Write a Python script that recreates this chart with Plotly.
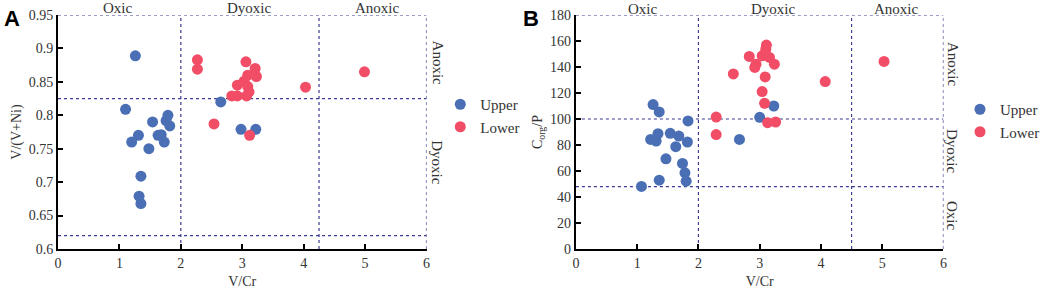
import plotly.graph_objects as go

# ---------------- Data ----------------
# Panel A: V/Cr vs V/(V+Ni)
a_upper_x = [1.26, 1.10, 1.54, 1.79, 1.76, 1.82, 1.31, 1.20, 1.63, 1.68, 1.73, 1.48, 1.35, 1.32, 1.35, 2.65, 2.98, 3.22]
a_upper_y = [0.889, 0.809, 0.790, 0.800, 0.792, 0.784, 0.770, 0.760, 0.770, 0.771, 0.760, 0.750, 0.709, 0.679, 0.668, 0.820, 0.779, 0.779]
a_lower_x = [2.27, 2.27, 3.06, 3.21, 3.23, 3.09, 3.03, 2.92, 3.09, 3.11, 2.83, 2.92, 3.07, 2.54, 3.12, 4.03, 4.99]
a_lower_y = [0.883, 0.869, 0.880, 0.870, 0.858, 0.860, 0.851, 0.845, 0.843, 0.835, 0.829, 0.829, 0.829, 0.787, 0.770, 0.842, 0.865]

# Panel B: V/Cr vs Corg/P
b_upper_x = [1.26, 1.36, 1.83, 1.34, 1.22, 1.31, 1.54, 1.68, 1.63, 1.82, 1.47, 1.74, 1.78, 1.80, 1.36, 1.07, 2.67, 3.00, 3.23]
b_upper_y = [111.1, 105.4, 98.5, 88.7, 84.3, 83.0, 89.0, 86.9, 78.7, 82.3, 69.4, 65.8, 58.6, 52.2, 52.9, 48.1, 84.3, 101.3, 110.0]
b_lower_x = [3.11, 3.10, 3.09, 3.04, 3.16, 3.24, 2.83, 2.94, 2.92, 2.57, 3.09, 3.04, 3.08, 2.29, 3.13, 3.26, 2.29, 4.07, 5.03]
b_lower_y = [156.9, 153.8, 150.7, 148.6, 147.4, 142.2, 148.1, 142.2, 139.7, 134.7, 132.4, 121.1, 112.1, 101.5, 97.2, 97.7, 88.0, 128.8, 144.3]

# Thresholds
a_x_thresh = [2, 4.25]
a_y_thresh = [0.825, 0.62]
b_x_thresh = [2, 4.5]
b_y_thresh = [100, 48]

x_ticks = [0, 1, 2, 3, 4, 5, 6]
a_y_ticks = [0.6, 0.65, 0.7, 0.75, 0.8, 0.85, 0.9, 0.95]
b_y_ticks = [0, 20, 40, 60, 80, 100, 120, 140, 160, 180]

BLUE = "#4A6FB5"
RED = "#F24D67"
NAVY = "#3B3B8F"
SERIF = "Liberation Serif"
TXT = "#333333"

fig = go.Figure()

mk = dict(size=11, line=dict(width=0))
fig.add_trace(go.Scatter(x=a_upper_x, y=a_upper_y, mode="markers", name="Upper",
                         marker=dict(color=BLUE, **mk), xaxis="x", yaxis="y", legend="legend"))
fig.add_trace(go.Scatter(x=a_lower_x, y=a_lower_y, mode="markers", name="Lower",
                         marker=dict(color=RED, **mk), xaxis="x", yaxis="y", legend="legend"))
fig.add_trace(go.Scatter(x=b_upper_x, y=b_upper_y, mode="markers", name="Upper",
                         marker=dict(color=BLUE, **mk), xaxis="x2", yaxis="y2", legend="legend2"))
fig.add_trace(go.Scatter(x=b_lower_x, y=b_lower_y, mode="markers", name="Lower",
                         marker=dict(color=RED, **mk), xaxis="x2", yaxis="y2", legend="legend2"))

ydom = [1 - 249 / 298, 1 - 15 / 298]
axis_common = dict(showgrid=False, zeroline=False, showline=True, linecolor="black", linewidth=2,
                   ticks="inside", ticklen=5, tickwidth=2, tickcolor="black", automargin=False,
                   tickfont=dict(family=SERIF, size=14, color=TXT))
title_font = dict(family=SERIF, size=14, color=TXT)

fig.update_layout(
    width=1045, height=298, autosize=False,
    margin=dict(l=0, r=0, t=0, b=0),
    paper_bgcolor="white", plot_bgcolor="white",
    xaxis=dict(domain=[59 / 1045, 434 / 1045], range=[0, 6], tickvals=x_ticks, anchor="y",
               title=dict(text="V/Cr", font=title_font, standoff=6), **axis_common),
    yaxis=dict(domain=ydom, range=[0.6, 0.95], tickvals=a_y_ticks, anchor="x",
               ticktext=[f"{v:g}" for v in a_y_ticks],
               title=dict(text="V/(V+Ni)", font=title_font, standoff=4), **axis_common),
    xaxis2=dict(domain=[586 / 1045, 960 / 1045], range=[0, 6], tickvals=x_ticks, anchor="y2",
                title=dict(text="V/Cr", font=title_font, standoff=6), **axis_common),
    yaxis2=dict(domain=ydom, range=[0, 180], tickvals=b_y_ticks, anchor="x2",
                title=dict(text="C<sub>org</sub>/P", font=title_font, standoff=4), **axis_common),
    legend=dict(x=448 / 1045, y=1 - 88 / 298, xanchor="left", yanchor="top",
                font=dict(family=SERIF, size=15, color=TXT), bgcolor="rgba(0,0,0,0)",
                itemwidth=30, tracegroupgap=0),
    legend2=dict(x=977 / 1045, y=1 - 93 / 298, xanchor="left", yanchor="top",
                 font=dict(family=SERIF, size=15, color=TXT), bgcolor="rgba(0,0,0,0)",
                 itemwidth=30, tracegroupgap=0),
    showlegend=True,
)

shapes = []
def dline(xr, yr, x0, y0, x1, y1):
    shapes.append(dict(type="line", xref=xr, yref=yr, x0=x0, y0=y0, x1=x1, y1=y1,
                       line=dict(color=NAVY, width=1.2, dash="dot"), layer="below"))

# Panel A
for xv in a_x_thresh:
    dline("x", "y", xv, 0.6, xv, 0.95)
for yv in a_y_thresh:
    dline("x", "y", 0, yv, 6, yv)
dline("x", "y", 0, 0.95, 6, 0.95)
dline("x", "y", 6, 0.6, 6, 0.95)
# Panel B
for xv in b_x_thresh:
    dline("x2", "y2", xv, 0, xv, 180)
for yv in b_y_thresh:
    dline("x2", "y2", 0, yv, 6, yv)
dline("x2", "y2", 0, 180, 6, 180)
dline("x2", "y2", 6, 0, 6, 180)
fig.update_layout(shapes=shapes)

ann = []
def label(xr, yr, x, y, text, angle=0, yshift=0, xshift=0):
    ann.append(dict(xref=xr, yref=yr, x=x, y=y, text=text, showarrow=False, textangle=angle,
                    font=dict(family=SERIF, size=15, color=TXT), yshift=yshift, xshift=xshift))

label("x", "y", 0.98, 0.95, "Oxic", yshift=7)
label("x", "y", 3.12, 0.95, "Dyoxic", yshift=7)
label("x", "y", 5.2, 0.95, "Anoxic", yshift=7)
label("x", "y", 6, 0.878, "Anoxic", angle=90, xshift=11)
label("x", "y", 6, 0.729, "Dyoxic", angle=90, xshift=11)

label("x2", "y2", 1.1, 180, "Oxic", yshift=6)
label("x2", "y2", 3.23, 180, "Dyoxic", yshift=6)
label("x2", "y2", 5.23, 180, "Anoxic", yshift=6)
label("x2", "y2", 6, 142, "Anoxic", angle=90, xshift=9)
label("x2", "y2", 6, 75, "Dyoxic", angle=90, xshift=9)
label("x2", "y2", 6, 25, "Oxic", angle=90, xshift=9)

ann.append(dict(xref="paper", yref="paper", x=2 / 1045, y=1 - 18 / 298, text="<b>A</b>", showarrow=False,
                xanchor="left", yanchor="middle", font=dict(family="Liberation Sans", size=22, color="black")))
ann.append(dict(xref="paper", yref="paper", x=530 / 1045, y=1 - 18 / 298, text="<b>B</b>", showarrow=False,
                xanchor="left", yanchor="middle", font=dict(family="Liberation Sans", size=22, color="black")))
fig.update_layout(annotations=ann)

fig.write_html("out.html", config={"displayModeBar": False, "responsive": False},
               post_script="document.body.style.margin='0px';document.body.style.overflow='hidden';")
